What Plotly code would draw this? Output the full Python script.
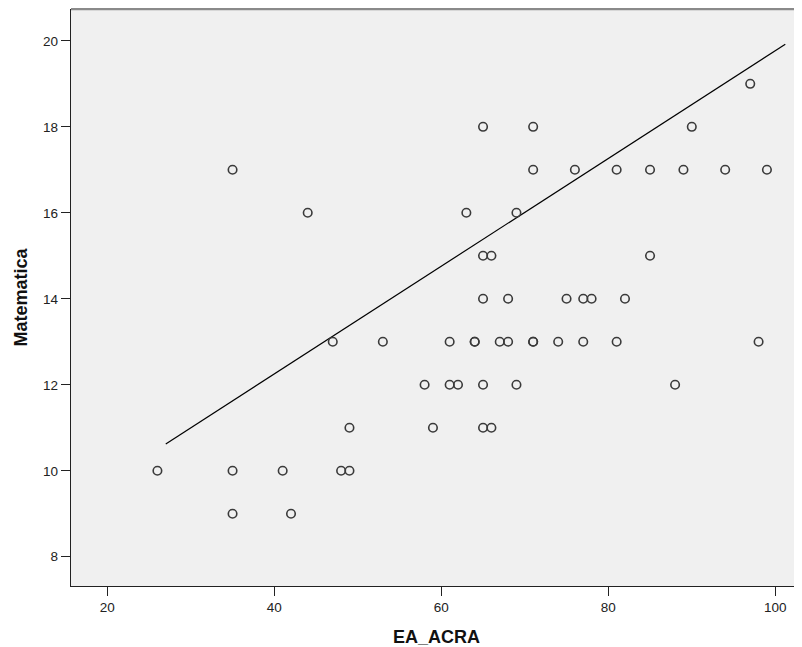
import plotly.graph_objects as go

# Data (EA_ACRA vs Matematica)
ea_acra = [97,
           65, 71, 90,
           35, 71, 76, 81, 85, 89, 94, 99,
           44, 63, 69,
           65, 66, 85,
           65, 68, 75, 77, 78, 82,
           47, 53, 61, 64, 64, 67, 68, 71, 71, 74, 77, 81, 98,
           58, 61, 62, 65, 69, 88,
           49, 59, 65, 66,
           26, 35, 41, 48, 49,
           35, 42]
matematica = [19,
              18, 18, 18,
              17, 17, 17, 17, 17, 17, 17, 17,
              16, 16, 16,
              15, 15, 15,
              14, 14, 14, 14, 14, 14,
              13, 13, 13, 13, 13, 13, 13, 13, 13, 13, 13, 13, 13,
              12, 12, 12, 12, 12, 12,
              11, 11, 11, 11,
              10, 10, 10, 10, 10,
              9, 9]

# Reference line (as drawn in the picture)
line_intercept = 7.24
line_slope = 0.1253
line_x = [27, 101.2]
line_y = [line_intercept + line_slope * v for v in line_x]

x_ticks = [20, 40, 60, 80, 100]
y_ticks = [8, 10, 12, 14, 16, 18, 20]

fig = go.Figure()
fig.add_trace(go.Scatter(
    x=line_x, y=line_y, mode="lines",
    line=dict(color="black", width=1.2), hoverinfo="skip", showlegend=False))
fig.add_trace(go.Scatter(
    x=ea_acra, y=matematica, mode="markers",
    marker=dict(symbol="circle-open", size=8.5, color="#3a3a3a",
                line=dict(width=1.6, color="#3a3a3a")),
    showlegend=False))

font_family = "Liberation Sans, Arial, sans-serif"
# The page body has an 8px margin, so the figure is sized to fit the window
fig.update_layout(
    width=794, height=639,
    margin=dict(l=63, r=0, t=1, b=61),
    paper_bgcolor="white", plot_bgcolor="#f0f0f0",
    font=dict(family=font_family, size=13, color="#222222"),
    xaxis=dict(range=[15.65, 103.2], tickvals=x_ticks, ticks="outside",
               ticklen=9, tickwidth=1.2, tickcolor="#222", showgrid=False,
               zeroline=False, showline=True, linecolor="#222", linewidth=1.4,
               tickfont=dict(size=13.5, color="#222"),
               title=dict(text="<b>EA_ACRA</b>", font=dict(size=18, color="#111"),
                          standoff=17)),
    yaxis=dict(range=[7.32, 20.74], tickvals=y_ticks, ticks="outside",
               ticklen=9, tickwidth=1.2, tickcolor="#222", showgrid=False,
               zeroline=False, showline=True, linecolor="#222", linewidth=1.4,
               tickfont=dict(size=13.5, color="#222"),
               title=dict(text="<b>Matematica</b>", font=dict(size=18, color="#111"),
                          standoff=10)),
    shapes=[dict(type="line", xref="paper", yref="paper", x0=0, x1=1, y0=1, y1=1,
                 line=dict(color="#8a8a8a", width=2.5))],
)

fig.write_html("out.html")
